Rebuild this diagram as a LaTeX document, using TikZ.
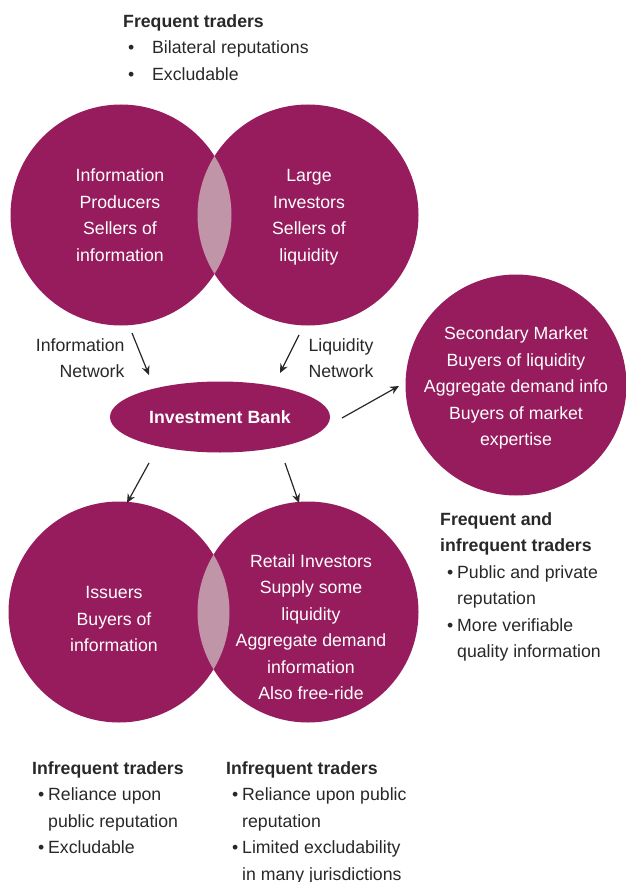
\documentclass[tikz,border=0pt]{standalone}
\usepackage{fontspec}
\setmainfont{Liberation Sans}
\usetikzlibrary{arrows.meta,shapes.geometric}
\definecolor{plum}{RGB}{150,28,94}
\definecolor{lens}{RGB}{192,149,168}
\definecolor{txt}{RGB}{40,40,40}
\tikzset{
  blob/.style={circle,fill=plum,minimum size=221pt,inner sep=0pt},
  intext/.style={text=white,align=center,font=\fontsize{17.7}{26.5}\selectfont},
  lbl/.style={text=txt,font=\fontsize{17.7}{26.5}\selectfont},
  arr/.style={-{Stealth[length=9pt,width=8pt]},line width=1.2pt,txt}
}
\newcommand{\bul}[1]{\makebox[#1][l]{•}}
\begin{document}
\begin{tikzpicture}[x=1pt,y=-1pt]
\useasboundingbox (0,0) rectangle (625,882);
% top circles
\node[blob] (ip) at (121,215) {};
\node[blob] (li) at (308,215) {};
\begin{scope}
  \clip (121,215) circle (110.5pt);
  \fill[lens] (308,215) circle (110.5pt);
\end{scope}
% bottom circles
\node[blob] (is) at (119,612) {};
\node[blob] (ri) at (308,612) {};
\begin{scope}
  \clip (119,612) circle (110.5pt);
  \fill[lens] (308,612) circle (110.5pt);
\end{scope}
% secondary
\node[blob] (sm) at (516,385) {};
% bank
\node[ellipse,fill=plum,minimum width=220pt,minimum height=71pt,inner sep=0pt,
      text=white,font=\fontsize{17.7}{26.5}\selectfont\bfseries] (ib) at (220,417) {Investment Bank};
% circle texts
\node[intext] (ipt) at (120,215) {Information\\Producers\\Sellers of\\information};
\node[intext] (lit) at (309,217) {Large\\Investors\\Sellers of\\liquidity};
\node[intext] (smt) at (516,388) {Secondary Market\\Buyers of liquidity\\Aggregate demand info\\Buyers of market\\expertise};
\node[intext] (ist) at (114,619) {Issuers\\Buyers of\\information};
\node[intext] (rit) at (311,627) {Retail Investors\\Supply some\\liquidity\\Aggregate demand\\information\\Also free-ride};
% network labels
\node[lbl,align=right,anchor=east] (inl) at (128,358) {Information\\Network};
\node[lbl,align=left,anchor=west] (lql) at (305,358) {Liquidity\\Network};
% arrows
\coordinate (a1s) at (132,333); \coordinate (a1e) at (149,375);
\coordinate (a2s) at (299,335); \coordinate (a2e) at (280,373);
\coordinate (a3s) at (342,418); \coordinate (a3e) at (399,386);
\coordinate (a4s) at (149,463); \coordinate (a4e) at (127,503);
\coordinate (a5s) at (285,463); \coordinate (a5e) at (299,503);
\draw[arr] (a1s) -- (a1e);
\draw[arr] (a2s) -- (a2e);
\draw[arr] (a3s) -- (a3e);
\draw[arr] (a4s) -- (a4e);
\draw[arr] (a5s) -- (a5e);
% text blocks
\node[lbl,align=left,anchor=north west,inner sep=0pt] (top) at (123,14)
 {\textbf{Frequent traders}\\\hspace*{5pt}\bul{24pt}Bilateral reputations\\\hspace*{5pt}\bul{24pt}Excludable};
\node[lbl,align=left,anchor=north west,inner sep=0pt] (rt) at (440,512)
 {\textbf{Frequent and}\\\textbf{infrequent traders}\\\hspace*{7pt}\bul{10pt}Public and private\\\hspace*{17pt}reputation\\\hspace*{7pt}\bul{10pt}More verifiable\\\hspace*{17pt}quality information};
\node[lbl,align=left,anchor=north west,inner sep=0pt] (bl) at (32,761)
 {\textbf{Infrequent traders}\\\hspace*{6pt}\bul{10pt}Reliance upon\\\hspace*{16pt}public reputation\\\hspace*{6pt}\bul{10pt}Excludable};
\node[lbl,align=left,anchor=north west,inner sep=0pt] (bm) at (226,761)
 {\textbf{Infrequent traders}\\\hspace*{6pt}\bul{10pt}Reliance upon public\\\hspace*{16pt}reputation\\\hspace*{6pt}\bul{10pt}Limited excludability\\\hspace*{16pt}in many jurisdictions};
\end{tikzpicture}
\end{document}
